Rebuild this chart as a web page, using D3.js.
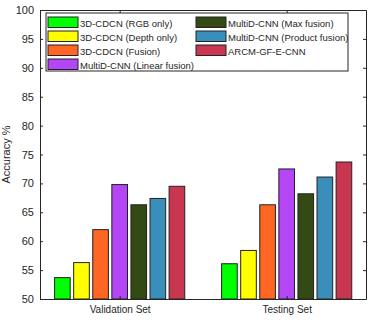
<!DOCTYPE html>
<html>
<head>
<meta charset="utf-8">
<script src="https://cdn.jsdelivr.net/npm/d3@7"></script>
<style>
  body { margin: 0; background: #fff; }
  text { font-family: "Liberation Sans", Arial, sans-serif; fill: #262626; }
</style>
</head>
<body>
<div id="chart"></div>
<script>
var W = 375, H = 324,
    m = [10, 9, 25, 40]; // top right bottom left

var groups = ["Validation Set", "Testing Set"];
var series = ["3D-CDCN (RGB only)", "3D-CDCN (Depth only)", "3D-CDCN (Fusion)",
              "MultiD-CNN (Linear fusion)", "MultiD-CNN (Max fusion)",
              "MultiD-CNN (Product fusion)", "ARCM-GF-E-CNN"];
var colors = ["#00ff00", "#ffff00", "#ff6624", "#b446f5", "#344a15", "#3a8fba", "#c8364f"];
var validation = [53.7, 56.3, 62.0, 69.8, 66.3, 67.4, 69.5];
var testing = [56.1, 58.4, 66.3, 72.5, 68.2, 71.1, 73.7];
var yTicks = [50, 55, 60, 65, 70, 75, 80, 85, 90, 95, 100];

var values = [validation, testing];
var pw = W - m[1] - m[3], ph = H - m[0] - m[2];

var svg = d3.select("#chart").append("svg")
    .attr("width", W).attr("height", H);
var g = svg.append("g").attr("transform", "translate(" + m[3] + "," + m[0] + ")");

var x = d3.scaleLinear().domain([0.523, 2.475]).range([0, pw]);
var y = d3.scaleLinear().domain([50, 100]).range([ph, 0]);

var step = 0.8 / series.length, bw = step * 0.82;

// bars
values.forEach(function(vals, gi) {
  g.selectAll(null).data(vals).enter().append("rect")
      .attr("x", function(d, i) { return x(gi + 1 - 0.4 + step * (i + 0.5) - bw / 2); })
      .attr("width", x(bw) - x(0))
      .attr("y", function(d) { return y(d); })
      .attr("height", function(d) { return y(50) - y(d); })
      .attr("fill", function(d, i) { return colors[i]; })
      .attr("stroke", "#222")
      .attr("stroke-width", 1);
});

// axes
var axisCol = "#262626";
var axL = g.append("g").call(d3.axisLeft(y).tickValues(yTicks).tickSizeInner(-3).tickSizeOuter(0).tickPadding(6));
var axR = g.append("g").attr("transform", "translate(" + pw + ",0)")
    .call(d3.axisRight(y).tickValues(yTicks).tickSizeInner(-3).tickSizeOuter(0).tickFormat(""));
var axB = g.append("g").attr("transform", "translate(0," + ph + ")")
    .call(d3.axisBottom(x).tickValues([1, 2]).tickSizeInner(-3).tickSizeOuter(0).tickPadding(7)
      .tickFormat(function(d) { return groups[d - 1]; }));
var axT = g.append("g")
    .call(d3.axisTop(x).tickValues([1, 2]).tickSizeInner(-3).tickSizeOuter(0).tickFormat(""));
[axL, axR, axB, axT].forEach(function(a) {
  a.selectAll("path,line").attr("stroke", axisCol);
  a.selectAll("text").attr("font-size", 11).attr("fill", "#262626")
      .style("font-family", "'Liberation Sans', Arial, sans-serif");
});
axB.selectAll("text").attr("font-size", 10);

g.append("text")
    .attr("transform", "translate(" + (-30) + "," + (ph / 2) + ") rotate(-90)")
    .attr("text-anchor", "middle")
    .attr("font-size", 11)
    .text("Accuracy %");

// legend
var lg = g.append("g").attr("transform", "translate(6,3)");
lg.append("rect").attr("width", 302).attr("height", 58)
    .attr("fill", "#fff").attr("stroke", "#262626").attr("stroke-width", 1);
series.forEach(function(s, i) {
  var col = i < 4 ? 0 : 1, row = i < 4 ? i : i - 4;
  var item = lg.append("g").attr("transform", "translate(" + (2 + col * 148) + "," + (4 + row * 14) + ")");
  item.append("rect").attr("width", 30).attr("height", 10.5)
      .attr("fill", colors[i]).attr("stroke", "#222");
  item.append("text").attr("x", 32).attr("y", 9.5)
      .attr("font-size", 9.5).text(s);
});
</script>
</body>
</html>
